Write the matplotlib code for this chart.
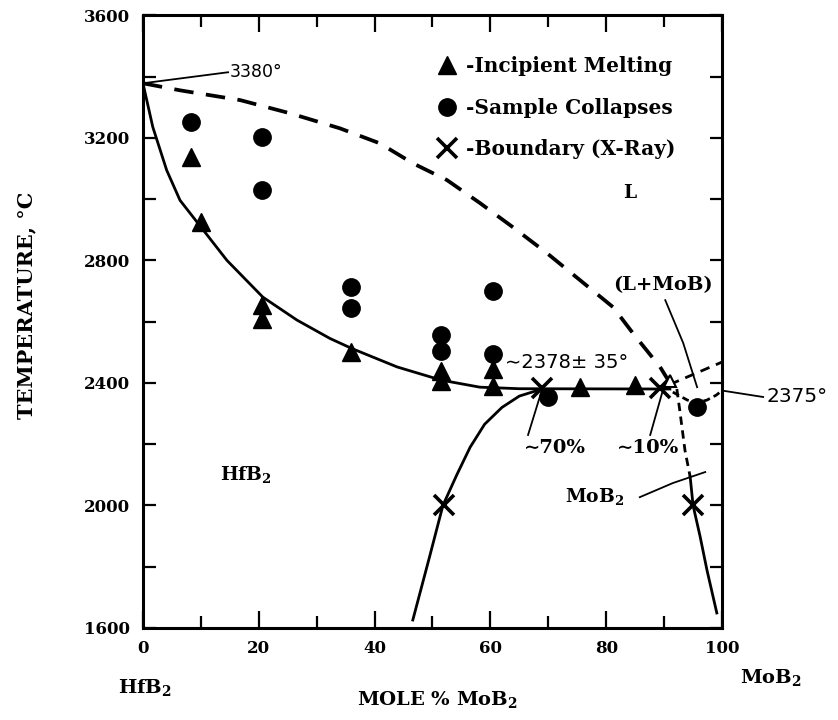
import numpy as np
import matplotlib
matplotlib.use("Agg")
import matplotlib.pyplot as plt
from matplotlib.ticker import MultipleLocator
from matplotlib.lines import Line2D

plt.rcParams["font.family"] = ["DejaVu Serif", "DejaVu Sans"]
plt.rcParams["font.weight"] = "bold"
plt.rcParams["mathtext.fontset"] = "dejavuserif"
plt.rcParams["lines.scale_dashes"] = False

tri_x = [8.3, 10, 20.5, 20.5, 36, 51.5, 51.5, 60.4, 60.4, 75.5, 85]
tri_t = [3137, 2925, 2655, 2610, 2500, 2440, 2405, 2445, 2390, 2385, 2392]
circ_x = [8.3, 20.5, 20.5, 35.9, 35.9, 51.5, 51.5, 60.4, 60.4, 70, 95.7]
circ_t = [3251, 3202, 3029, 2713, 2644, 2555, 2505, 2700, 2495, 2355, 2322]
xray_x = [52, 68.9, 89.3, 95]
xray_t = [2000, 2383, 2383, 2000]
open_tri_x = [91]
open_tri_t = [2405]

# phase boundaries
solidus_x = [0, 1.7, 4.1, 6.4, 9.5, 14.5, 20.7, 26.6, 32.3, 36.1, 43.9, 51.5, 58.2, 65, 91]
solidus_t = [3378, 3235, 3094, 2996, 2921, 2800, 2680, 2605, 2545, 2512, 2452, 2409, 2386, 2381, 2380]
liquidus_x = [0, 6.4, 16.8, 25.4, 34, 40.9, 46.6, 52.5, 58.2, 63.9, 69.8, 75.5, 81.2, 84.7, 89.3, 91]
liquidus_t = [3378, 3355, 3323, 3280, 3231, 3182, 3117, 3062, 2987, 2908, 2823, 2735, 2647, 2560, 2452, 2400]
hfb2_x = [46.6, 49.6, 51.8, 54.2, 56.5, 59, 62, 65, 68.9]
hfb2_t = [1626, 1840, 2000, 2100, 2190, 2265, 2320, 2357, 2380]
mob2_x = [94.5, 95, 96.2, 97.4, 99.1]
mob2_t = [2093, 2000, 1900, 1789, 1649]
mob2_dash_x = [92.2, 92.7, 93.6, 94.5]
mob2_dash_t = [2380, 2311, 2180, 2093]
upper_dash_x = [91, 100]
upper_dash_t = [2395, 2468]
loop_x = [91.5, 94, 95.7, 97.4, 99, 100]
loop_t = [2370, 2344, 2335, 2344, 2360, 2375]

fig = plt.figure(figsize=(8.38, 7.2), dpi=100)
ax = fig.add_axes([0.1706, 0.1278, 0.691, 0.851])

lw = 2.0
ax.plot(solidus_x, solidus_t, color="black", lw=lw, zorder=2)
ax.plot(liquidus_x, liquidus_t, color="black", lw=2.7, dashes=(14, 9), zorder=2)
ax.plot(hfb2_x, hfb2_t, color="black", lw=lw, zorder=2)
ax.plot(mob2_x, mob2_t, color="black", lw=lw, zorder=2)
ax.plot(mob2_dash_x, mob2_dash_t, color="black", lw=2.0, dashes=(6, 4), zorder=2)
ax.plot(upper_dash_x, upper_dash_t, color="black", lw=2.0, dashes=(7, 5), zorder=2)
ax.plot(loop_x, loop_t, color="black", lw=2.0, dashes=(5, 3), zorder=2)

ax.plot(tri_x, tri_t, ls="none", marker="^", ms=13, color="black", zorder=4)
ax.plot(circ_x, circ_t, ls="none", marker="o", ms=12.5, color="black", zorder=4)
ax.plot(xray_x, xray_t, ls="none", marker="x", ms=14, mew=2.6, color="black", zorder=5)
ax.plot(open_tri_x, open_tri_t, ls="none", marker="^", ms=8, mfc="white",
        mec="black", mew=1.5, zorder=5)

ax.set_xlim(0, 100)
ax.set_ylim(1600, 3600)
ax.xaxis.set_major_locator(MultipleLocator(20))
ax.xaxis.set_minor_locator(MultipleLocator(10))
ax.yaxis.set_major_locator(MultipleLocator(400))
ax.yaxis.set_minor_locator(MultipleLocator(200))
ax.tick_params(which="both", direction="in", top=True, right=True, width=1.6,
               labelsize=12)
ax.tick_params(axis="x", which="major", length=12, pad=9)
ax.tick_params(axis="x", which="minor", length=8.5)
ax.tick_params(axis="y", which="both", length=9, pad=9)
for sp in ax.spines.values():
    sp.set_linewidth(2.2)

# legend in the upper right
handles = [
    Line2D([], [], ls="none", marker="^", ms=13, color="black"),
    Line2D([], [], ls="none", marker="o", ms=12.5, color="black"),
    Line2D([], [], ls="none", marker="x", ms=14, mew=2.6, color="black"),
]
labels = ["-Incipient Melting", "-Sample Collapses", "-Boundary (X-Ray)"]
ax.legend(handles, labels, loc="upper left", bbox_to_anchor=(0.507, 0.933),
          frameon=False, handlelength=1.0, handletextpad=0.45, borderpad=0,
          borderaxespad=0, labelspacing=1.07, prop={"size": 14.5, "weight": "bold"})

# leader lines
thin = dict(color="black", lw=1.3, clip_on=False, zorder=3)
ax.plot([0, 14.7], [3378, 3414], **thin)
ax.plot([90.2, 93.3, 95.7], [2670, 2530, 2386], **thin)
ax.plot([100, 107.1], [2375, 2354], **thin)
ax.plot([66.5, 68.9], [2230, 2377], **thin)
ax.plot([87.6, 89.8], [2230, 2377], **thin)
ax.plot([85.8, 91.5, 97.1], [2027, 2073, 2109], **thin)

sans = dict(family="DejaVu Sans", weight="normal")
ax.text(14.9, 3414, "3380°", fontsize=12.5, va="center", ha="left", **sans)
ax.text(62.5, 2468, "∼2378± 35°", fontsize=14, va="center", ha="left", **sans)
ax.text(107.6, 2354, "2375°", fontsize=14.5, va="center", ha="left", **sans)

ax.text(84.1, 3019, "L", fontsize=13.5, ha="center", va="center")
ax.text(89.8, 2719, "(L+MoB)", fontsize=14, ha="center", va="center")
ax.text(71.2, 2187, "∼70%", fontsize=14, ha="center", va="center")
ax.text(87.2, 2187, "∼10%", fontsize=14, ha="center", va="center")
ax.text(72.9, 2030, r"MoB$_\mathbf{2}$", fontsize=13.5, ha="left", va="center")
ax.text(13.3, 2100, r"HfB$_\mathbf{2}$", fontsize=13.5, ha="left", va="center")

fig.text(118 / 838, 1 - 688 / 720, r"HfB$_\mathbf{2}$", fontsize=14,
         ha="left", va="center")
fig.text(437 / 838, 1 - 700 / 720, r"MOLE % MoB$_\mathbf{2}$", fontsize=14,
         ha="center", va="center")
fig.text(740 / 838, 1 - 678 / 720, r"MoB$_\mathbf{2}$", fontsize=14,
         ha="left", va="center")
fig.text(26 / 838, 1 - 305 / 720, "TEMPERATURE, °C", fontsize=15,
         rotation=90, ha="center", va="center")

fig.savefig("out.png", dpi=100, facecolor="white")
